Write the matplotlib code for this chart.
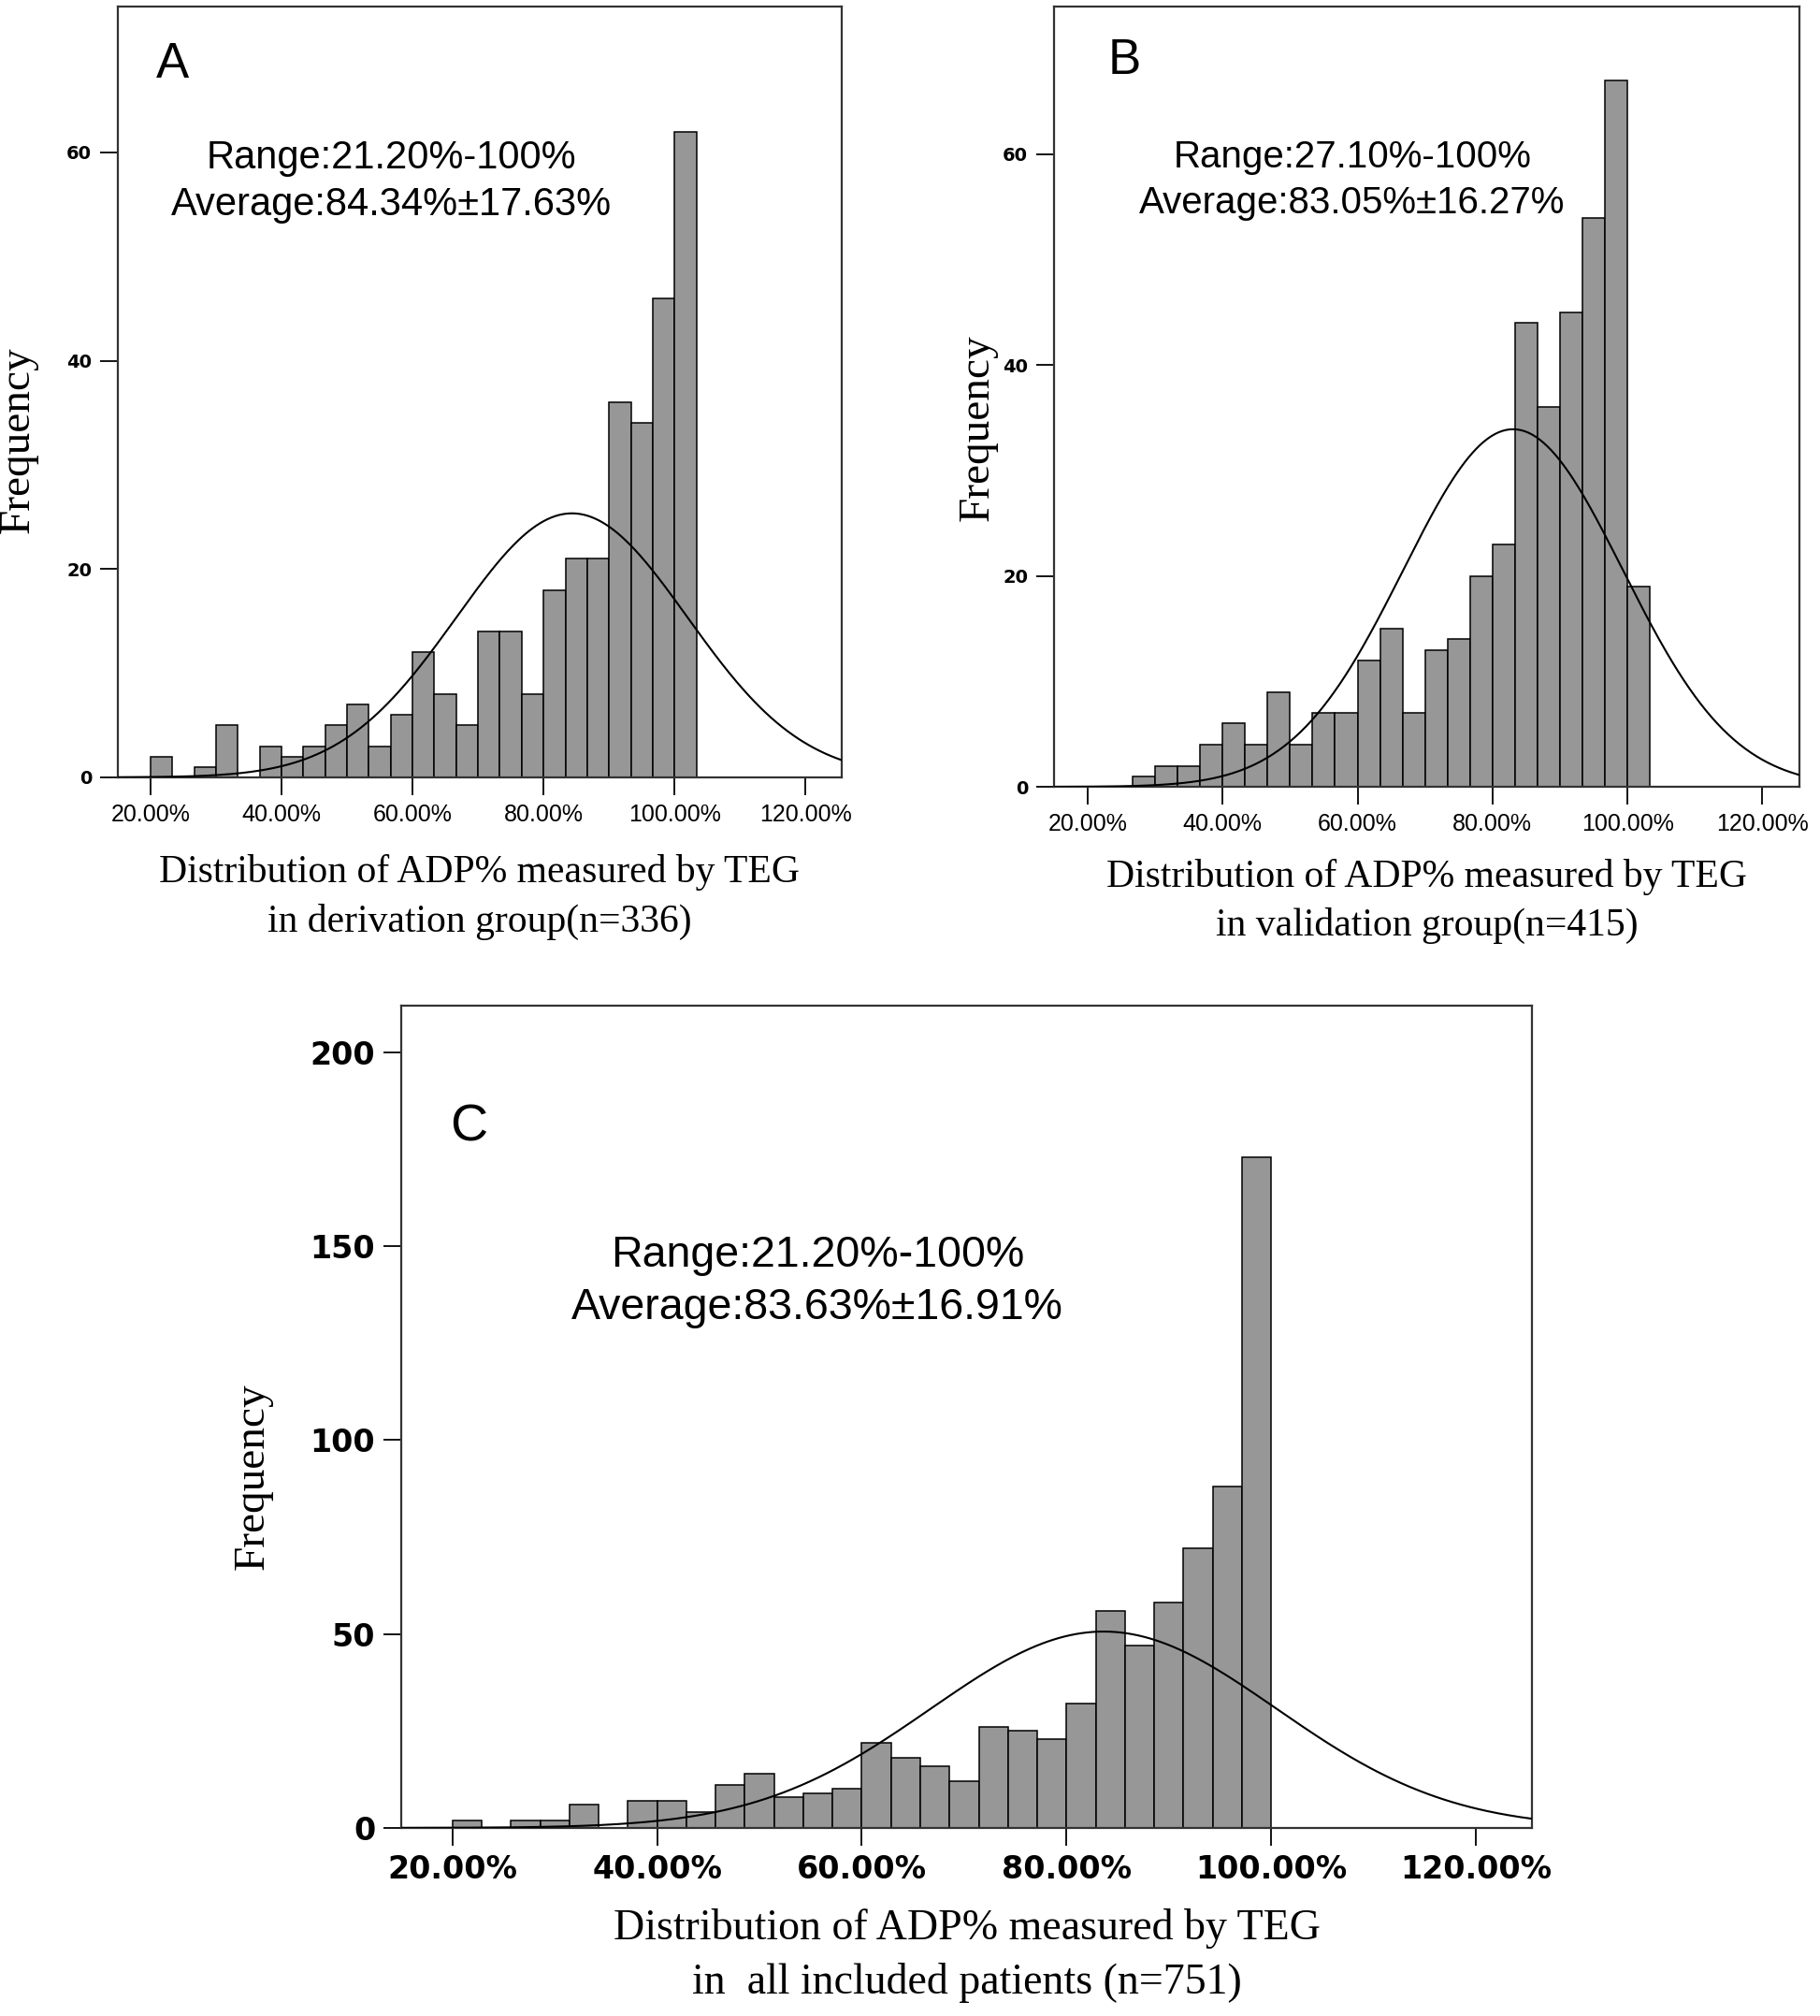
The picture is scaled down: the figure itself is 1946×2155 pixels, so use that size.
import numpy as np
import matplotlib
matplotlib.use("Agg")
import matplotlib.pyplot as plt

# ---- data ----
# panel A: derivation group, bins of 10/3 % starting at 20 %
a_start, a_width = 20.0, 10.0 / 3
a_counts = [2, 0, 1, 5, 0, 3, 2, 3, 5, 7, 3, 6, 12, 8, 5, 14, 14, 8, 18, 21, 21,
            36, 34, 46, 62]
a_mean, a_sd, a_n = 84.34, 17.63, 336

# panel B: validation group, bins of 10/3 % starting at 26.67 %
b_start, b_width = 80.0 / 3, 10.0 / 3
b_counts = [1, 2, 2, 4, 6, 4, 9, 4, 7, 7, 12, 15, 7, 13, 14, 20, 23, 44, 36,
            45, 54, 67, 19]
b_mean, b_sd, b_n = 83.05, 16.27, 415

# panel C: all patients, bins of 20/7 % starting at 20 %
c_start, c_width = 20.0, 20.0 / 7
c_counts = [2, 0, 2, 2, 6, 0, 7, 7, 4, 11, 14, 8, 9, 10, 22, 18, 16, 12, 26,
            25, 23, 32, 56, 47, 58, 72, 88, 173]
c_mean, c_sd, c_n = 83.63, 16.91, 751

x_ticks = [20, 40, 60, 80, 100, 120]
x_ticklabels = ["20.00%", "40.00%", "60.00%", "80.00%", "100.00%", "120.00%"]
ab_yticks = [0, 20, 40, 60]
c_yticks = [0, 50, 100, 150, 200]

a_text = "Range:21.20%-100%\nAverage:84.34%\u00b117.63%"
b_text = "Range:27.10%-100%\nAverage:83.05%\u00b116.27%"
c_text = "Range:21.20%-100%\nAverage:83.63%\u00b116.91%"
a_xlabel = "Distribution of ADP% measured by TEG\nin derivation group(n=336)"
b_xlabel = "Distribution of ADP% measured by TEG\nin validation group(n=415)"
c_xlabel = "Distribution of ADP% measured by TEG\nin  all included patients (n=751)"

BAR = "#979797"
SERIF = "Liberation Serif"
SANS = "Liberation Sans"


def draw_panel(ax, start, width, counts, mean, sd, n, ylim, yticks,
               text, text_xy, text_size, letter, letter_xy, letter_size,
               xlabel, xlabel_size, xlabel_pad, xtick_font, ytick_size,
               ylabel_xy):
    edges = start + width * np.arange(len(counts))
    ax.bar(edges, counts, width=width, align="edge", color=BAR,
           edgecolor="black", linewidth=1.1, zorder=2)
    xs = np.linspace(15, 125.5, 400)
    ys = n * width * np.exp(-0.5 * ((xs - mean) / sd) ** 2) / (sd * np.sqrt(2 * np.pi))
    ax.plot(xs, ys, color="black", linewidth=1.5, zorder=3)

    ax.set_xlim(15, 125.5)
    ax.set_ylim(*ylim)
    ax.set_xticks(x_ticks)
    ax.set_xticklabels(x_ticklabels, **xtick_font)
    ax.set_yticks(yticks)
    ax.set_yticklabels([str(v) for v in yticks], family="DejaVu Sans",
                       weight="bold", size=ytick_size)
    ax.tick_params(direction="out", length=14, width=1.3, pad=6)
    for s in ax.spines.values():
        s.set_linewidth(1.6)
        s.set_color("#333333")

    ax.text(*text_xy, text, transform=ax.transAxes, ha="center", va="center",
            family=SANS, size=text_size, linespacing=1.35)
    ax.text(*letter_xy, letter, transform=ax.transAxes, ha="center",
            va="center", family=SANS, size=letter_size)
    ax.set_xlabel(xlabel, family=SERIF, size=xlabel_size, labelpad=xlabel_pad,
                  linespacing=1.45)
    ax.set_ylabel("Frequency", family=SERIF, size=34)
    # label anchor is the right-hand edge of the rotated text
    ax.yaxis.set_label_coords(*ylabel_xy)


fig = plt.figure(figsize=(19.46, 21.55), dpi=100)

ax_a = fig.add_axes([0.0647, 0.6144, 0.3977, 0.3824])
ax_b = fig.add_axes([0.5791, 0.6097, 0.4096, 0.3870])
ax_c = fig.add_axes([0.2205, 0.0933, 0.6213, 0.4079])

ab_xtick = dict(family=SANS, size=18)
draw_panel(ax_a, a_start, a_width, a_counts, a_mean, a_sd, a_n, (0, 74),
           ab_yticks, a_text, (0.378, 0.773), 30, "A", (0.076, 0.925), 38,
           a_xlabel, 30, 22, ab_xtick, 14, (-0.11, 0.438))
draw_panel(ax_b, b_start, b_width, b_counts, b_mean, b_sd, b_n, (0, 74),
           ab_yticks, b_text, (0.40, 0.778), 29, "B", (0.095, 0.930), 38,
           b_xlabel, 30, 18, ab_xtick, 14, (-0.076, 0.46))
draw_panel(ax_c, c_start, c_width, c_counts, c_mean, c_sd, c_n, (0, 212),
           c_yticks, c_text, (0.368, 0.664), 33.5, "C", (0.06, 0.852), 40,
           c_xlabel, 33, 18, dict(family="DejaVu Sans", weight="bold", size=24),
           24, (-0.114, 0.427))

fig.savefig("out.png", dpi=100, facecolor="white")
